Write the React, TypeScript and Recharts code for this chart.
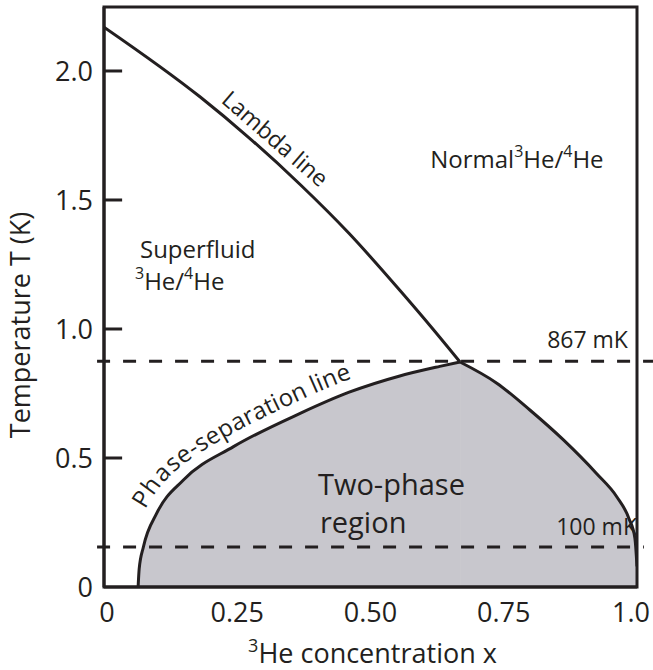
import {
	Area,
	ComposedChart,
	Line,
	ReferenceArea,
	ReferenceDot,
	ReferenceLine,
	XAxis,
	YAxis,
} from "recharts";

const INK = "#231f20";
const REGION_FILL = "#c8c7cd";
const FONT = "'Open Sans', sans-serif";

// axes
const xTicks = [0, 0.25, 0.5, 0.75, 1];
const xTickLabels = ["0", "0.25", "0.50", "0.75", "1.0"];
const yTicks = [0, 0.5, 1, 1.5, 2];
const yTickLabels = ["0", "0.5", "1.0", "1.5", "2.0"];
const yMax = 2.248;

// lambda line (superfluid transition)
const lambdaX = [0, 0.18, 0.27, 0.368, 0.46, 0.555, 0.617, 0.668];
const lambdaT = [2.17, 1.9, 1.745, 1.56, 1.37, 1.15, 1.0, 0.872];

// phase-separation line, dilute side and concentrated side
const phaseLeftX = [0.064, 0.066, 0.074, 0.099, 0.149, 0.243, 0.368, 0.46, 0.555, 0.63, 0.668];
const phaseLeftT = [0, 0.07, 0.156, 0.286, 0.415, 0.544, 0.673, 0.755, 0.818, 0.855, 0.872];
const phaseRightX = [0.668, 0.737, 0.799, 0.862, 0.924, 0.962, 0.985, 0.996, 1.0];
const phaseRightT = [0.872, 0.79, 0.686, 0.57, 0.44, 0.35, 0.265, 0.19, 0.08];

// dashed temperature levels (K)
const tricritical = 0.875;
const mixingChamber = 0.155;

const zip = (xs: number[], ts: number[]) => xs.map((x, i) => ({ x, t: ts[i] }));
const lambdaData = zip(lambdaX, lambdaT);
const phaseLeftData = zip(phaseLeftX, phaseLeftT);
const phaseRightData = zip(phaseRightX, phaseRightT);

const textStyle = { fontFamily: FONT, fill: INK };

function YTitle({ viewBox }: any) {
	const cx = viewBox.x + 30;
	const cy = viewBox.y + viewBox.height / 2 + 28;
	return (
		<text
			x={cx}
			y={cy}
			transform={`rotate(-90 ${cx} ${cy})`}
			textAnchor="middle"
			fontSize={27}
			style={textStyle}
		>
			Temperature T (K)
		</text>
	);
}

function XTitle({ viewBox }: any) {
	const cx = viewBox.x + viewBox.width / 2 + 2;
	return (
		<text x={cx} y={663} textAnchor="middle" fontSize={27} style={textStyle}>
			<tspan fontSize={18} dy={-11}>
				3
			</tspan>
			<tspan dy={11}>He concentration x</tspan>
		</text>
	);
}

function XTick({ x, y, payload, index }: any) {
	// end labels sit slightly inside the frame in the original
	const nudge = index === 0 ? 3 : index === xTicks.length - 1 ? -6 : 0;
	return (
		<text
			x={x + nudge}
			y={y}
			dy="0.71em"
			textAnchor="middle"
			fontSize={27}
			style={textStyle}
		>
			{xTickLabels[xTicks.indexOf(payload.value)] ?? String(payload.value)}
		</text>
	);
}

// smooth path through the rendered points (Catmull-Rom)
function smoothPath(pts: { x: number; y: number }[]) {
	let d = `M${pts[0].x},${pts[0].y}`;
	for (let i = 0; i < pts.length - 1; i++) {
		const p0 = pts[i - 1] ?? pts[i];
		const p1 = pts[i];
		const p2 = pts[i + 1];
		const p3 = pts[i + 2] ?? p2;
		const c1x = p1.x + (p2.x - p0.x) / 6;
		const c1y = p1.y + (p2.y - p0.y) / 6;
		const c2x = p2.x - (p3.x - p1.x) / 6;
		const c2y = p2.y - (p3.y - p1.y) / 6;
		d += ` C${c1x},${c1y} ${c2x},${c2y} ${p2.x},${p2.y}`;
	}
	return d;
}

// curved label that follows the dilute branch
function phaseLabel(props: any) {
	const { index, points } = props;
	if (index !== 0 || !points) return <g key={`pd-${index}`} />;
	return (
		<g key="phase-label">
			<path id="phaseSepPath" d={smoothPath(points)} fill="none" stroke="none" />
			<text fontSize={24} style={textStyle} dy={-12}>
				<textPath href="#phaseSepPath" startOffset={74}>
					Phase-separation line
				</textPath>
			</text>
		</g>
	);
}

const note =
	(render: (cx: number, cy: number) => any) =>
	(p: any) =>
		render(p.cx, p.cy);

export default function App() {
	return (
		<div
			style={{
				position: "absolute",
				left: 0,
				top: 0,
				width: 653,
				height: 670,
				background: "#fff",
			}}
		>
			<ComposedChart
				width={653}
				height={670}
				margin={{ top: 7, right: 16, bottom: 0, left: 0 }}
			>
				<XAxis
					type="number"
					dataKey="x"
					domain={[0, 1]}
					ticks={xTicks}
					interval={0}
					tick={<XTick />}
					tickSize={0}
					tickMargin={16}
					axisLine={{ stroke: INK, strokeWidth: 3 }}
					height={83}
					allowDataOverflow
					label={<XTitle />}
				/>
				<YAxis
					type="number"
					dataKey="t"
					domain={[0, yMax]}
					ticks={yTicks}
					interval={0}
					tickFormatter={(v: number) => yTickLabels[yTicks.indexOf(v)] ?? String(v)}
					tickSize={0}
					tickMargin={11}
					tick={{ fontSize: 27, fill: INK, fontFamily: FONT }}
					axisLine={{ stroke: INK, strokeWidth: 3 }}
					width={104}
					allowDataOverflow
					label={<YTitle />}
				/>
				<Area
					data={phaseLeftData}
					dataKey="t"
					type="monotone"
					fill={REGION_FILL}
					fillOpacity={1}
					stroke={INK}
					strokeWidth={3}
					dot={phaseLabel}
					activeDot={false}
					isAnimationActive={false}
				/>
				<Area
					data={phaseRightData}
					dataKey="t"
					type="monotone"
					fill={REGION_FILL}
					fillOpacity={1}
					stroke={INK}
					strokeWidth={3}
					dot={false}
					activeDot={false}
					isAnimationActive={false}
				/>
				<Line
					data={lambdaData}
					dataKey="t"
					type="monotone"
					stroke={INK}
					strokeWidth={3}
					dot={false}
					activeDot={false}
					isAnimationActive={false}
				/>
				<ReferenceArea
					x1={0}
					x2={1}
					y1={0}
					y2={yMax}
					fill="none"
					stroke={INK}
					strokeWidth={3}
					ifOverflow="visible"
				/>
				{yTicks
					.filter((v) => v > 0)
					.map((v) => (
						<ReferenceLine
							key={`yt-${v}`}
							segment={[
								{ x: 0, y: v },
								{ x: 0.034, y: v },
							]}
							stroke={INK}
							strokeWidth={3}
						/>
					))}
				<ReferenceLine
					segment={[
						{ x: -0.013, y: tricritical },
						{ x: 1.03, y: tricritical },
					]}
					stroke={INK}
					strokeWidth={3}
					strokeDasharray="13 13"
					ifOverflow="visible"
				/>
				<ReferenceLine
					segment={[
						{ x: -0.013, y: mixingChamber },
						{ x: 1.013, y: mixingChamber },
					]}
					stroke={INK}
					strokeWidth={3}
					strokeDasharray="13 13"
					ifOverflow="visible"
				/>
				<ReferenceDot
					x={0.983}
					y={0.926}
					r={0}
					ifOverflow="visible"
					shape={note((cx, cy) => (
						<text x={cx} y={cy} textAnchor="end" fontSize={23} style={textStyle}>
							867 mK
						</text>
					))}
				/>
				<ReferenceDot
					x={1}
					y={0.202}
					r={0}
					ifOverflow="visible"
					shape={note((cx, cy) => (
						<text x={cx} y={cy} textAnchor="end" fontSize={23} style={textStyle}>
							100 mK
						</text>
					))}
				/>
				<ReferenceDot
					x={0.612}
					y={1.624}
					r={0}
					ifOverflow="visible"
					shape={note((cx, cy) => (
						<text x={cx} y={cy} fontSize={24} style={textStyle}>
							Normal
							<tspan fontSize={16} dy={-11}>3</tspan>
							<tspan dy={11}>He/</tspan>
							<tspan fontSize={16} dy={-11}>4</tspan>
							<tspan dy={11}>He</tspan>
						</text>
					))}
				/>
				<ReferenceDot
					x={0.0675}
					y={1.275}
					r={0}
					ifOverflow="visible"
					shape={note((cx, cy) => (
						<text x={cx} y={cy} fontSize={24} style={textStyle}>
							<tspan x={cx}>Superfluid</tspan>
							<tspan x={cx - 5} dy={21} fontSize={16}>
								3
							</tspan>
							<tspan dy={11}>He/</tspan>
							<tspan fontSize={16} dy={-11}>4</tspan>
							<tspan dy={11}>He</tspan>
						</text>
					))}
				/>
				<ReferenceDot
					x={0.4015}
					y={0.357}
					r={0}
					ifOverflow="visible"
					shape={note((cx, cy) => (
						<text x={cx} y={cy} fontSize={29} style={textStyle}>
							<tspan x={cx}>Two-phase</tspan>
							<tspan x={cx + 2} dy={38}>
								region
							</tspan>
						</text>
					))}
				/>
				<ReferenceDot
					x={0.321}
					y={1.737}
					r={0}
					ifOverflow="visible"
					shape={note((cx, cy) => (
						<text
							x={cx}
							y={cy}
							dy="0.35em"
							transform={`rotate(41 ${cx} ${cy})`}
							textAnchor="middle"
							fontSize={23}
							style={textStyle}
						>
							Lambda line
						</text>
					))}
				/>
			</ComposedChart>
		</div>
	);
}
